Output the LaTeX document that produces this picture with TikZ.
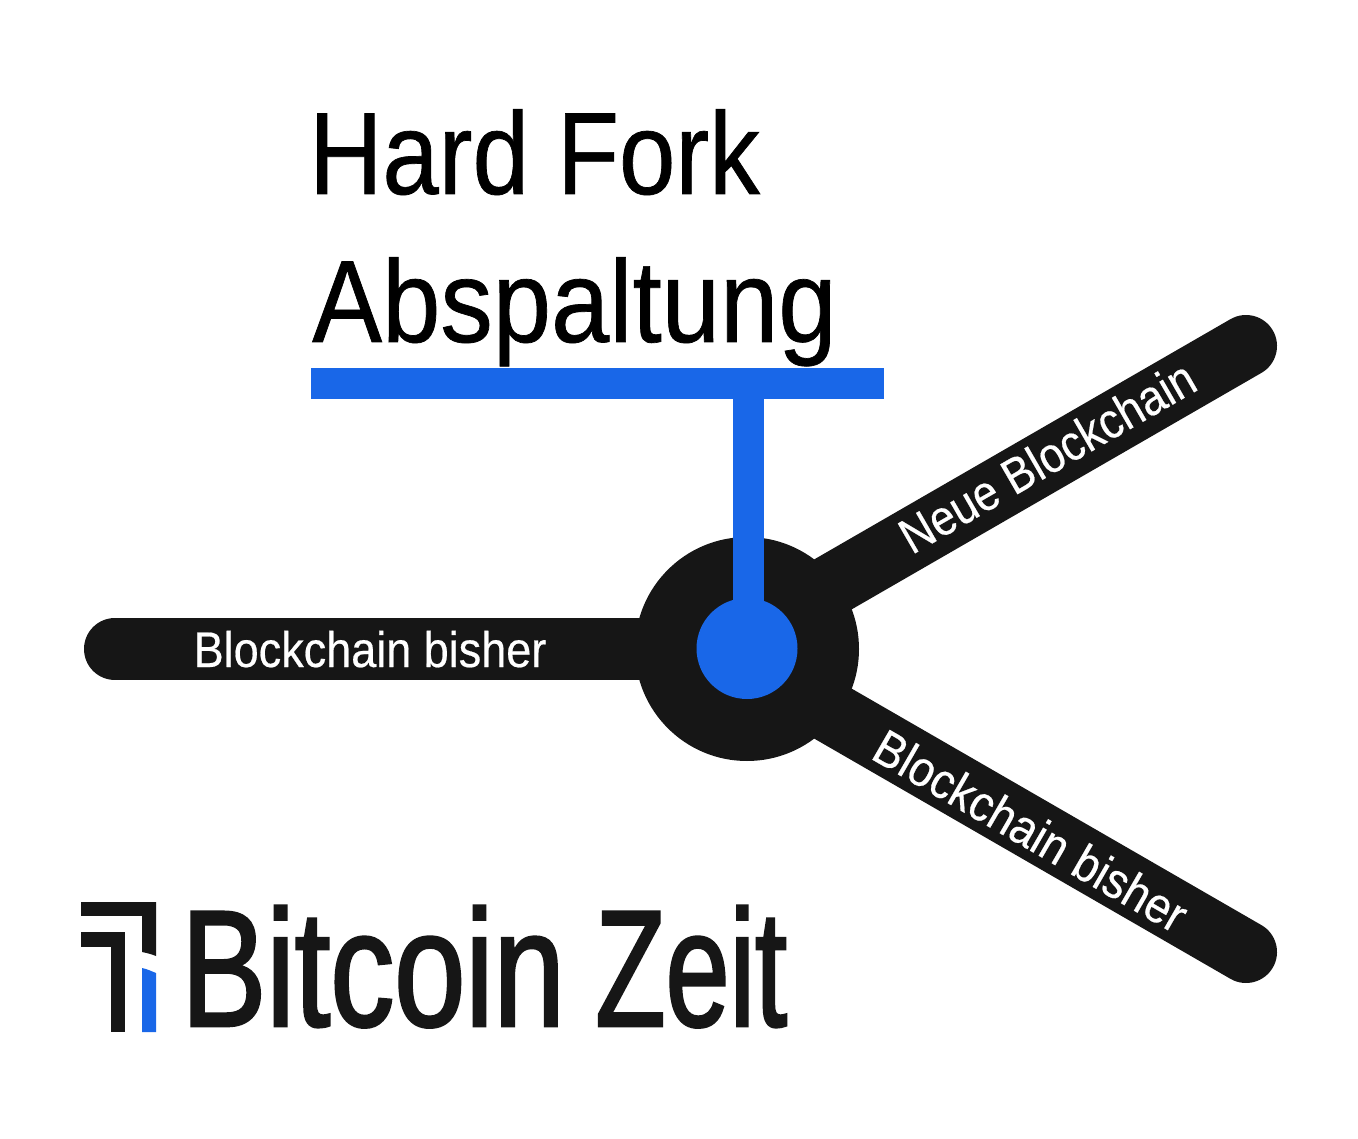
\documentclass[tikz,border=0pt]{standalone}
\usepackage{fontspec}
\setmainfont{Liberation Sans}
\newfontfamily\cond[FakeStretch=0.88,FakeBold=0.6]{Liberation Sans}
\newfontfamily\labelfont[FakeStretch=0.9,FakeBold=0.4]{Liberation Sans}
\newfontfamily\logofont[FakeStretch=0.77,FakeBold=1.6]{Liberation Sans}
\definecolor{inkblack}{HTML}{161616}
\definecolor{forkblue}{HTML}{1967E8}
\tikzset{x=1pt,y=-1pt,
 arm/.style={line width=62pt,line cap=round,draw=inkblack},
 title/.style={anchor=base west,inner sep=0pt,font=\cond\fontsize{117}{117}\selectfont,text=black},
 armlabel/.style={inner sep=0pt,text=white,font=\labelfont\fontsize{50}{50}\selectfont,anchor=base},
 bluebar/.style={fill=forkblue,draw=none}}
\begin{document}
\begin{tikzpicture}
\useasboundingbox (0,0) rectangle (1358,1139);
\fill[white] (0,0) rectangle (1358,1139);
\coordinate (hub) at (747,649);
\coordinate (hubup) at (747,634);
\coordinate (hubdown) at (747,664);
\coordinate (west) at (115,649);
\coordinate (ne) at (1246,346);
\coordinate (se) at (1246,952);
\draw[arm] (hub) -- (west);
\draw[arm] (hubup) -- (ne);
\draw[arm] (hubdown) -- (se);
\node[circle,fill=inkblack,minimum size=224pt,inner sep=0pt] (disc) at (hub) {};
\node[bluebar,minimum width=573pt,minimum height=31pt,inner sep=0pt,anchor=north west] (bar) at (311,367.5) {};
\fill[forkblue] (733,398) rectangle (763.5,620);
\node[circle,fill=forkblue,minimum size=101pt,inner sep=0pt] (dot) at (747,648.5) {};
\node[title] (t1) at (309,194) {\scalebox{0.985}[1]{Hard Fork}};
\node[title] (t2) at (312,342) {\scalebox{1.018}[1]{Abspaltung}};
\node[armlabel,anchor=base west] (l1) at (193.5,667) {Blockchain bisher};
\node[armlabel,rotate=30] (l2) at (1056,472) {\scalebox{0.985}[1]{Neue Blockchain}};
\node[armlabel,rotate=-30] (l3) at (1022,846) {Blockchain bisher};
\fill[inkblack] (81,902) rectangle (156,916);
\fill[inkblack] (142,902) -- (156,902) -- (156,956) .. controls (151,954) and (147,953) .. (142,952) -- cycle;
\fill[inkblack] (81,932) rectangle (125,947);
\fill[inkblack] (111,932) rectangle (125,1032);
\fill[forkblue] (142,968) .. controls (147,969) and (151,971) .. (156,973) -- (156,1032) -- (142,1032) -- cycle;
\node[anchor=base west,inner sep=0pt,text=inkblack,font=\logofont\fontsize{166}{166}\selectfont] (logo) at (181,1026) {Bitcoin \hspace{-5pt}\scalebox{0.9}[1]{Zeit}};
\end{tikzpicture}
\end{document}
